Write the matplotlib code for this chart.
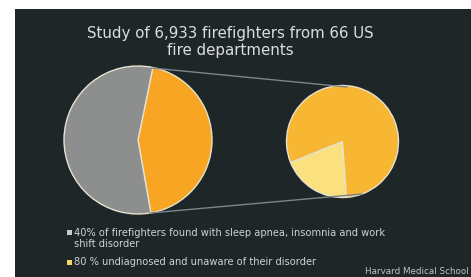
import matplotlib
matplotlib.use('Agg')
import matplotlib.pyplot as plt
from matplotlib.patches import Rectangle

# data
left_labels = ['found with disorder', 'other']
left_values = [44, 56]
right_labels = ['undiagnosed', 'diagnosed']
right_values = [20, 80]
title = 'Study of 6,933 firefighters from 66 US\nfire departments'
legend_lines = ['40% of firefighters found with sleep apnea, insomnia and work\nshift disorder',
                '80 % undiagnosed and unaware of their disorder']
credit = 'Harvard Medical School'

bg = '#1f2628'
fig = plt.figure(figsize=(4.71, 2.77), dpi=100)
fig.patch.set_facecolor('white')
ax = fig.add_axes([0, 0, 1, 1])

# slide background (white scan margin on left/top)
ax.add_patch(Rectangle((15, 0), 456, 268, facecolor=bg, edgecolor='none', zorder=0))

wp = dict(edgecolor='#e6e2cf', linewidth=1)
ax.pie(left_values, colors=['#f8a524', '#8c8f8e'], startangle=-80,
       center=(138, 137), radius=74, wedgeprops=wp, frame=True)
ax.pie(right_values, colors=['#fbe07f', '#f8b733'], startangle=202,
       center=(342.5, 135.5), radius=56, wedgeprops=wp, frame=True)
ax.set_xlim(0, 471)
ax.set_ylim(0, 277)
ax.set_aspect('equal')
ax.axis('off')

# connector lines
ax.plot([152, 347], [209, 190], color='#7d8589', lw=1, zorder=1)
ax.plot([150, 362], [64, 83], color='#7d8589', lw=1, zorder=1)

ax.text(230, 235, title, ha='center', va='center', color='#dcdede',
        fontsize=10.8, linespacing=1.1, family='DejaVu Sans')

ax.add_patch(Rectangle((67, 42.5), 5, 5, facecolor='#c9c9c9', edgecolor='none'))
ax.text(74, 49, legend_lines[0], ha='left', va='top', color='#d0d2d2',
        fontsize=7.1, linespacing=1.15)
ax.add_patch(Rectangle((67, 12.5), 5, 5, facecolor='#f3d56a', edgecolor='none'))
ax.text(74, 15, legend_lines[1], ha='left', va='center', color='#d0d2d2',
        fontsize=7.1)
ax.text(469, 6, credit, ha='right', va='center', color='#c0c4c4', fontsize=6.3)

fig.savefig('out.png', dpi=100, facecolor=fig.get_facecolor())
